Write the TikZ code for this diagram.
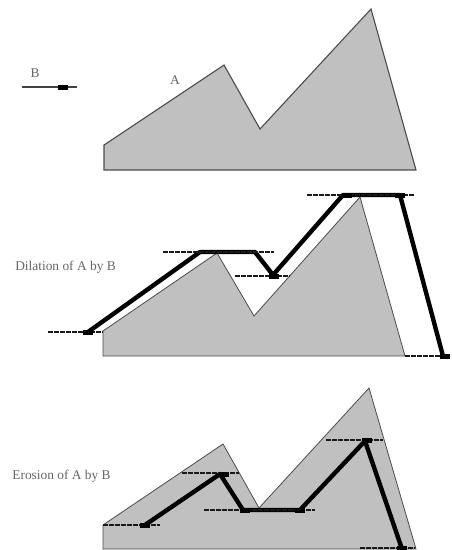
\documentclass[tikz,border=0pt]{standalone}
\usepackage{fontspec}
\setmainfont{Liberation Serif}
\usepackage{tikz}
\usetikzlibrary{arrows,positioning,calc}
\definecolor{shapegray}{HTML}{C0C0C0}
\tikzset{
  shapeA/.style={fill=shapegray,draw=black!70,line width=1.1pt,line join=miter},
  probe/.style={line width=4.4pt,color=black,line join=round},
  trace/.style={dash pattern=on 4.5pt off 1.5pt,line width=1.5pt,color=black!90},
  lbl/.style={color=black!60,font=\fontsize{13.4}{15}\selectfont,inner sep=0pt},
}
\begin{document}
\begin{tikzpicture}[x=1pt,y=-1pt]
  \useasboundingbox[fill=white] (0,0) rectangle (452,550);

  % structuring element
  \draw[line width=1.1pt,color=black!75] (22,87) -- (77,87);
  \fill[black] (58,84.5) rectangle (68,90);
  \node[lbl] (labelB) at (35,73) {B};
  \node[lbl] (labelA) at (175,80) {A};
  \draw[shapeA] (104,170) -- (104,145) -- (224,65) -- (260,129) -- (371,9) -- (416,170) -- cycle;

  % dilation
  \node[lbl] (dilation) at (65.5,267) {Dilation of A by B};
  \draw[shapeA,line width=0.8pt] (103,356) -- (103,331) -- (217,253) -- (254,316) -- (360,197) -- (405,356) -- cycle;
  \draw[probe] (88,332) -- (200,252) -- (255,252) -- (273,275) -- (343,195) -- (400,195) -- (443,356);
  \draw[trace] (48,332) -- (103,332);
  \draw[trace] (163,252) -- (274,252);
  \draw[trace] (235,276) -- (290,276);
  \draw[trace] (307,195) -- (415,195);
  \draw[trace] (405,356) -- (448,356);
  \foreach \x/\y in {88/332,274/276,347/195,400/195,445/356}
    \fill[black] (\x-5,\y-2.5) rectangle (\x+5,\y+2.5);

  % erosion
  \node[lbl] (erosion) at (61.5,476) {Erosion of A by B};
  \draw[shapeA,line width=0.8pt] (103,549) -- (103,525) -- (223,444) -- (259,508) -- (369,388) -- (416,549) -- cycle;
  \draw[probe] (145,525) -- (220,474) -- (243,510) -- (300,510) -- (365,441) -- (402,549);
  \draw[trace] (103,525) -- (160,525);
  \draw[trace] (182,473) -- (239,473);
  \draw[trace] (204,510) -- (315,510);
  \draw[trace] (326,440) -- (383,440);
  \draw[trace] (360,548) -- (415,548);
  \foreach \x/\y in {145/525,224/474,245/510,300/510,367/440,402/548}
    \fill[black] (\x-5,\y-2.5) rectangle (\x+5,\y+2.5);
\end{tikzpicture}
\end{document}
